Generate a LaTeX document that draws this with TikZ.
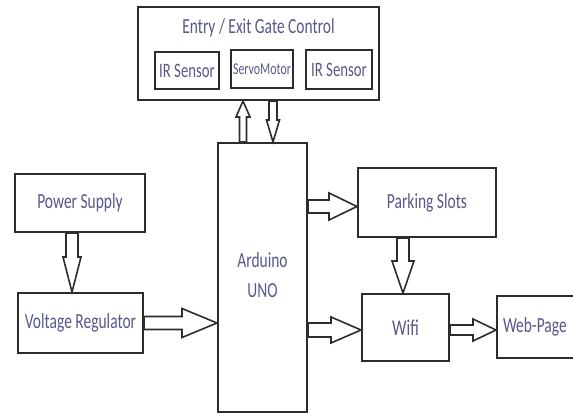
\documentclass[tikz,border=0pt]{standalone}
\usepackage{fontspec}
\setmainfont[FakeStretch=0.72]{Carlito}
\usetikzlibrary{calc}
\definecolor{txt}{RGB}{88,88,140}
\definecolor{ln}{RGB}{45,45,45}
\tikzset{
  blk/.style={draw=ln, line width=2pt, rectangle, inner sep=0pt, text=txt,
    font=\fontsize{21.5}{25}\selectfont},
  lbl/.style={text=txt, inner sep=0pt, font=\fontsize{21.5}{25}\selectfont},
  barrow/.style={draw=ln, line width=1.6pt, fill=white, line join=miter},
}
% right arrow: from #1 to tip #2, shaft #3, head width #4, head length #5
\newcommand\rarr[5]{\draw[barrow] ($(#1)+(0,-#3/2)$) -- ($(#2)+(-#5,-#3/2)$) -- ($(#2)+(-#5,-#4/2)$) -- (#2) -- ($(#2)+(-#5,#4/2)$) -- ($(#2)+(-#5,#3/2)$) -- ($(#1)+(0,#3/2)$) -- cycle;}
% down arrow (y axis points down)
\newcommand\darr[5]{\draw[barrow] ($(#1)+(-#3/2,0)$) -- ($(#2)+(-#3/2,-#5)$) -- ($(#2)+(-#4/2,-#5)$) -- (#2) -- ($(#2)+(#4/2,-#5)$) -- ($(#2)+(#3/2,-#5)$) -- ($(#1)+(#3/2,0)$) -- cycle;}
% up arrow
\newcommand\uarr[5]{\draw[barrow] ($(#1)+(-#3/2,0)$) -- ($(#2)+(-#3/2,#5)$) -- ($(#2)+(-#4/2,#5)$) -- (#2) -- ($(#2)+(#4/2,#5)$) -- ($(#2)+(#3/2,#5)$) -- ($(#1)+(#3/2,0)$) -- cycle;}
\begin{document}
\begin{tikzpicture}[x=1pt,y=-1pt]
\useasboundingbox (0,0) rectangle (573,417);
\clip (0,0) rectangle (573,417);
\fill[white] (0,0) rectangle (573,417);

% gate control
\node[blk, minimum width=241pt, minimum height=93pt] (gate) at (258.5,53.5) {};
\node[lbl] (gtitle) at (258.5,28) {Entry / Exit Gate Control};
\node[blk, minimum width=64pt, minimum height=37pt, font=\fontsize{20.5}{24}\selectfont] (ir1) at (187,70.5) {IR Sensor};
\node[blk, minimum width=62pt, minimum height=38pt, font=\fontsize{16.5}{20}\selectfont] (servo) at (262,69) {ServoMotor};
\node[blk, minimum width=66pt, minimum height=39pt, font=\fontsize{20.5}{24}\selectfont] (ir2) at (339,69.5) {IR Sensor};

% arduino
\node[blk, minimum width=89pt, minimum height=269pt] (ard) at (262.5,277.5)
  {\raisebox{5pt}{\begin{tabular}{@{}c@{}}Arduino\\[5pt]UNO\end{tabular}}};

% left column
\node[blk, minimum width=130pt, minimum height=58pt] (ps) at (80,203) {Power Supply};
\node[blk, minimum width=125pt, minimum height=60pt] (vr) at (80.5,323) {Voltage Regulator};

% right side
\node[blk, minimum width=138pt, minimum height=69pt] (park) at (427,202.5) {Parking Slots};
\node[blk, minimum width=87pt, minimum height=67pt, font=\fontsize{22.5}{26}\selectfont] (wifi) at (405.5,327.5) {Wifi\hspace{14pt}};
\node[blk, minimum height=62pt, text width=71pt, inner xsep=6pt, align=left] (web) at (538.5,327) {Web-Page};

% arrows
\coordinate (a1) at ($(ps.south)+(-8,0)$);
\coordinate (a2) at (a1 |- vr.north);
\darr{a1}{a2}{12}{18}{35}

\coordinate (b1) at (vr.east);
\coordinate (b2) at (b1 -| ard.west);
\rarr{b1}{b2}{13}{29}{35}

\coordinate (c1) at ($(park.west)+(0,4)$);
\coordinate (c0) at (c1 -| ard.east);
\rarr{c0}{c1}{13}{27}{28}

\coordinate (d1) at ($(wifi.west)+(0,2.5)$);
\coordinate (d0) at (d1 -| ard.east);
\rarr{d0}{d1}{14}{26}{30}

\coordinate (e0) at ($(park.south)+(-24,0)$);
\coordinate (e1) at (e0 |- wifi.north);
\darr{e0}{e1}{12}{22}{32}

\coordinate (f0) at ($(wifi.east)+(0,2.5)$);
\coordinate (f1) at (f0 -| web.west);
\rarr{f0}{f1}{10}{22}{23}

\coordinate (g0) at ($(ard.north)+(-19.5,0)$);
\coordinate (g1) at (g0 |- gate.south);
\uarr{g0}{g1}{7}{14}{16}

\coordinate (h0) at ($(gate.south)+(14.5,0)$);
\coordinate (h1) at (h0 |- ard.north);
\darr{h0}{h1}{8}{13}{22}
\end{tikzpicture}
\end{document}
